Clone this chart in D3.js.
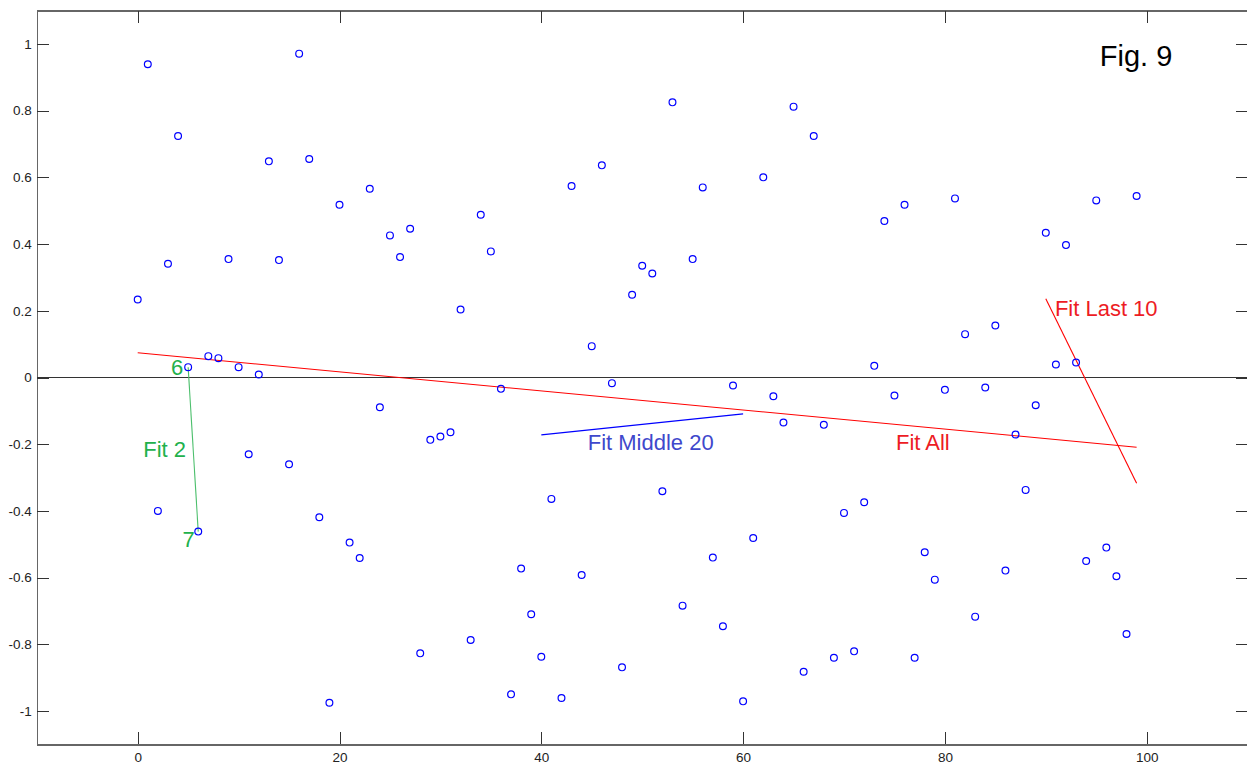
<!DOCTYPE html>
<html>
<head>
<meta charset="utf-8">
<script src="https://cdn.jsdelivr.net/npm/d3@7"></script>
<style>
    body { margin: 0; background: #fff; }
    svg { display: block; font-family: "Liberation Sans", Arial, sans-serif; }
    .axis path, .axis line { shape-rendering: crispEdges; }
</style>
</head>
<body>
<div id="chart"></div>
<script>
// sample values, index 0..99
const yValues = [
    0.234, 0.939, -0.400, 0.341, 0.724, 0.031, -0.462, 0.064, 0.058, 0.355,
    0.031, -0.230, 0.009, 0.648, 0.352, -0.260, 0.971, 0.655, -0.419, -0.975,
    0.518, -0.495, -0.541, 0.566, -0.089, 0.426, 0.361, 0.446, -0.827, -0.187,
    -0.177, -0.164, 0.204, -0.787, 0.488, 0.378, -0.034, -0.950, -0.573, -0.710,
    -0.837, -0.364, -0.961, 0.574, -0.592, 0.094, 0.636, -0.017, -0.869, 0.248,
    0.335, 0.312, -0.341, 0.825, -0.684, 0.355, 0.570, -0.540, -0.746, -0.024,
    -0.971, -0.481, 0.600, -0.056, -0.135, 0.812, -0.882, 0.724, -0.142, -0.840,
    -0.406, -0.821, -0.374, 0.035, 0.469, -0.054, 0.518, -0.840, -0.524, -0.606,
    -0.037, 0.537, 0.130, -0.717, -0.030, 0.156, -0.579, -0.171, -0.337, -0.083,
    0.434, 0.039, 0.397, 0.045, -0.550, 0.531, -0.510, -0.596, -0.769, 0.544
];

// fitted line end points [x, y]
const fitAll = [[0, 0.074], [99, -0.209]];
const fit2 = [[5, 0.031], [6, -0.462]];
const fitMiddle20 = [[40, -0.172], [60, -0.109]];
const fitLast10 = [[90, 0.236], [99, -0.317]];

const xTicks = [0, 20, 40, 60, 80, 100];
const yTicks = [-1, -0.8, -0.6, -0.4, -0.2, 0, 0.2, 0.4, 0.6, 0.8, 1];

const width = 1247, height = 766;
const margin = {left: 36.8, top: 10.6, bottom: 21.6};

const x = d3.scaleLinear().domain([-10, 110]).range([margin.left, margin.left + 1210.8]);
const y = d3.scaleLinear().domain([-1.1, 1.1]).range([height - margin.bottom, margin.top]);

const svg = d3.select("#chart").append("svg")
    .attr("width", width)
    .attr("height", height);

// axes, ticks pointing inward like matlab
function styleAxis(g, labels) {
    g.attr("class", "axis");
    g.select(".domain").attr("stroke", "#666").attr("stroke-width", 1.4);
    g.selectAll(".tick line").attr("stroke", "#333").attr("stroke-width", 1);
    if (labels) {
        g.selectAll(".tick text").attr("fill", "#222").style("font-size", "13.5px");
    } else {
        g.selectAll(".tick text").remove();
    }
}

const plain = d => String(d);  // keep ascii hyphen for negatives

svg.append("g")
    .attr("transform", `translate(0,${y(-1.1)})`)
    .call(d3.axisBottom(x).tickValues(xTicks).tickSize(-12).tickSizeOuter(0).tickPadding(8).tickFormat(plain))
    .call(g => styleAxis(g, true));

svg.append("g")
    .attr("transform", `translate(0,${y(1.1)})`)
    .call(d3.axisTop(x).tickValues(xTicks).tickSize(-12).tickSizeOuter(0))
    .call(g => styleAxis(g, false));

svg.append("g")
    .attr("transform", `translate(${x(-10)},0)`)
    .call(d3.axisLeft(y).tickValues(yTicks).tickSize(-12).tickSizeOuter(0).tickPadding(5).tickFormat(plain))
    .call(g => styleAxis(g, true));

svg.append("g")
    .attr("transform", `translate(${x(110)},0)`)
    .call(d3.axisRight(y).tickValues(yTicks).tickSize(-12).tickSizeOuter(0))
    .call(g => styleAxis(g, false));

// zero line
svg.append("line")
    .attr("x1", x(-10)).attr("x2", x(110))
    .attr("y1", y(0)).attr("y2", y(0))
    .attr("stroke", "#333")
    .attr("stroke-width", 1.2)
    .style("shape-rendering", "crispEdges");

const line = d3.line().x(d => x(d[0])).y(d => y(d[1]));

const fits = [
    {pts: fitAll, color: "#ff0000"},
    {pts: fit2, color: "#4cbf6c"},
    {pts: fitMiddle20, color: "#0000ff"},
    {pts: fitLast10, color: "#ff0000"}
];

svg.selectAll(".fit")
    .data(fits)
    .enter().append("path")
    .attr("class", "fit")
    .attr("d", d => line(d.pts))
    .attr("fill", "none")
    .attr("stroke", d => d.color)
    .attr("stroke-width", 1.1);

svg.selectAll(".pt")
    .data(yValues)
    .enter().append("circle")
    .attr("class", "pt")
    .attr("cx", (d, i) => x(i))
    .attr("cy", d => y(d))
    .attr("r", 3.4)
    .attr("fill", "none")
    .attr("stroke", "#0000ff")
    .attr("stroke-width", 1.2);

// annotations (data coords of the text baseline start)
const notes = [
    {text: "6", at: [3.3, 0.006], color: "#22b14c", size: 22},
    {text: "7", at: [4.45, -0.509], color: "#22b14c", size: 22},
    {text: "Fit 2", at: [0.55, -0.239], color: "#22b14c", size: 22},
    {text: "Fit Middle 20", at: [44.6, -0.217], color: "#3f48cc", size: 22},
    {text: "Fit All", at: [75.15, -0.217], color: "#ed1c24", size: 22},
    {text: "Fit Last 10", at: [90.9, 0.183], color: "#ed1c24", size: 22},
    {text: "Fig. 9", at: [95.35, 0.933], color: "#000", size: 29}
];

svg.selectAll(".note")
    .data(notes)
    .enter().append("text")
    .attr("class", "note")
    .attr("x", d => x(d.at[0]))
    .attr("y", d => y(d.at[1]))
    .attr("fill", d => d.color)
    .style("font-size", d => d.size + "px")
    .text(d => d.text);
</script>
</body>
</html>
